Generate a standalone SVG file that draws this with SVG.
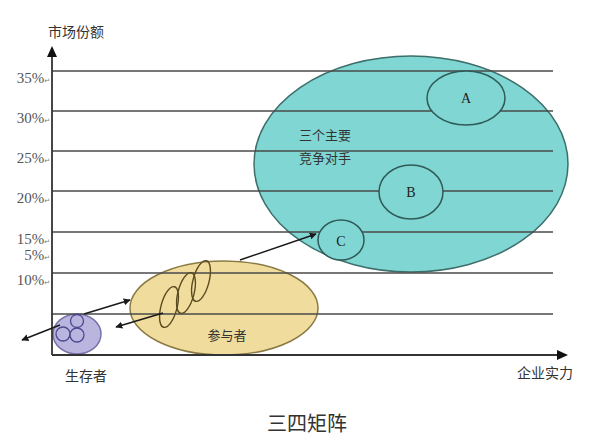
<svg xmlns="http://www.w3.org/2000/svg" width="608" height="442" viewBox="0 0 608 442">
<defs>
<marker id="ah" viewBox="0 0 10 10" refX="9" refY="5" markerWidth="7" markerHeight="7" orient="auto" markerUnits="userSpaceOnUse">
<path d="M0,0 L10,5 L0,10 z" fill="#1a1a1a"/>
</marker>
<style>
.grid{stroke:#4a4a4a;stroke-width:1.6}
.axis{stroke:#333;stroke-width:1.8;fill:none}
.tick{font-family:"Liberation Serif",serif;font-size:15px;fill:#555;text-anchor:end}
.rm{font-family:"DejaVu Sans",sans-serif;font-size:7px;fill:#777}
.cjk{font-family:"Noto Sans CJK SC",sans-serif;fill:#333}
.big{fill:#7fd6d2;stroke:#3d6e6a;stroke-width:1.5}
.sub{fill:#7fd6d2;stroke:#2f5a57;stroke-width:1.5}
.lbl{font-family:"Liberation Serif",serif;font-size:14px;fill:#222;text-anchor:middle}
.arrow{stroke:#1a1a1a;stroke-width:1.5;fill:none;marker-end:url(#ah)}
</style>
</defs>
<rect width="608" height="442" fill="#fff"/>

<g id="competitors-bg">
<ellipse cx="411" cy="164" rx="157" ry="108" class="big"/>
</g>
<g id="participants">
<ellipse cx="224" cy="308" rx="94" ry="47" fill="#f0dc9c" stroke="#8a7a44" stroke-width="1.5"/>
</g>
<g id="survivors">
<ellipse cx="77" cy="334" rx="24" ry="20" fill="#b9b5de" stroke="#7872aa" stroke-width="1.5"/>
</g>

<g id="grid">
<line x1="52" y1="71" x2="553" y2="71" class="grid"/>
<line x1="52" y1="111" x2="553" y2="111" class="grid"/>
<line x1="52" y1="151" x2="553" y2="151" class="grid"/>
<line x1="52" y1="191" x2="553" y2="191" class="grid"/>
<line x1="52" y1="232" x2="553" y2="232" class="grid"/>
<line x1="52" y1="273" x2="553" y2="273" class="grid"/>
<line x1="52" y1="314" x2="553" y2="314" class="grid"/>
</g>

<g id="axes">
<line x1="52" y1="355" x2="52" y2="56" class="axis"/>
<path d="M47,57 L52,46 L57,57 z" fill="#111"/>
<line x1="52" y1="355" x2="558" y2="355" class="axis"/>
<path d="M557,350 L568,355 L557,360 z" fill="#111"/>
<text x="48" y="37" class="cjk" font-size="14">市场份额</text>
<text x="517" y="378" class="cjk" font-size="14">企业实力</text>
</g>

<g id="ticks">
<text x="50" y="83" class="tick">35%<tspan class="rm">↵</tspan></text>
<text x="50" y="123" class="tick">30%<tspan class="rm">↵</tspan></text>
<text x="50" y="163" class="tick">25%<tspan class="rm">↵</tspan></text>
<text x="50" y="203" class="tick">20%<tspan class="rm">↵</tspan></text>
<text x="50" y="244" class="tick">15%<tspan class="rm">↵</tspan></text>
<text x="50" y="260" class="tick">5%<tspan class="rm">↵</tspan></text>
<text x="50" y="285" class="tick">10%<tspan class="rm">↵</tspan></text>
</g>

<g id="node-A">
<ellipse cx="466" cy="98" rx="39" ry="27" class="sub"/>
<text x="466" y="103" class="lbl">A</text>
</g>
<g id="node-B">
<ellipse cx="411" cy="192" rx="32" ry="27" class="sub"/>
<text x="411" y="197" class="lbl">B</text>
</g>
<g id="node-C">
<ellipse cx="341" cy="240" rx="23" ry="20" class="sub"/>
<text x="341" y="246" class="lbl">C</text>
</g>
<g id="competitors-label">
<text x="299" y="140" class="cjk" font-size="13">三个主要</text>
<text x="299" y="163" class="cjk" font-size="13">竞争对手</text>
</g>

<g id="participants-inner" fill="none" stroke="#5a4a20" stroke-width="1.4">
<ellipse cx="169" cy="307" rx="8" ry="21" transform="rotate(15 169 307)"/>
<ellipse cx="186" cy="293" rx="8" ry="21" transform="rotate(15 186 293)"/>
<ellipse cx="201" cy="281" rx="8" ry="21" transform="rotate(15 201 281)"/>
<text x="227" y="340" class="cjk" font-size="13" text-anchor="middle" stroke="none" fill="#333">参与者</text>
</g>

<g id="survivors-inner" fill="none" stroke="#4e4890" stroke-width="1.3">
<circle cx="77" cy="321" r="6.5"/>
<circle cx="63" cy="334" r="7"/>
<circle cx="77" cy="335" r="7"/>
</g>
<g id="survivors-label">
<text x="65" y="381" class="cjk" font-size="14">生存者</text>
</g>

<g id="connectors">
<line x1="240" y1="260" x2="316" y2="234" class="arrow"/>
<line x1="84" y1="314" x2="130" y2="300" class="arrow"/>
<line x1="163" y1="313" x2="116" y2="327" class="arrow"/>
<line x1="60" y1="325" x2="22" y2="340" class="arrow"/>
</g>

<g id="title">
<text x="307" y="431" class="cjk" font-size="20" text-anchor="middle" fill="#333">三四矩阵</text>
</g>
</svg>
